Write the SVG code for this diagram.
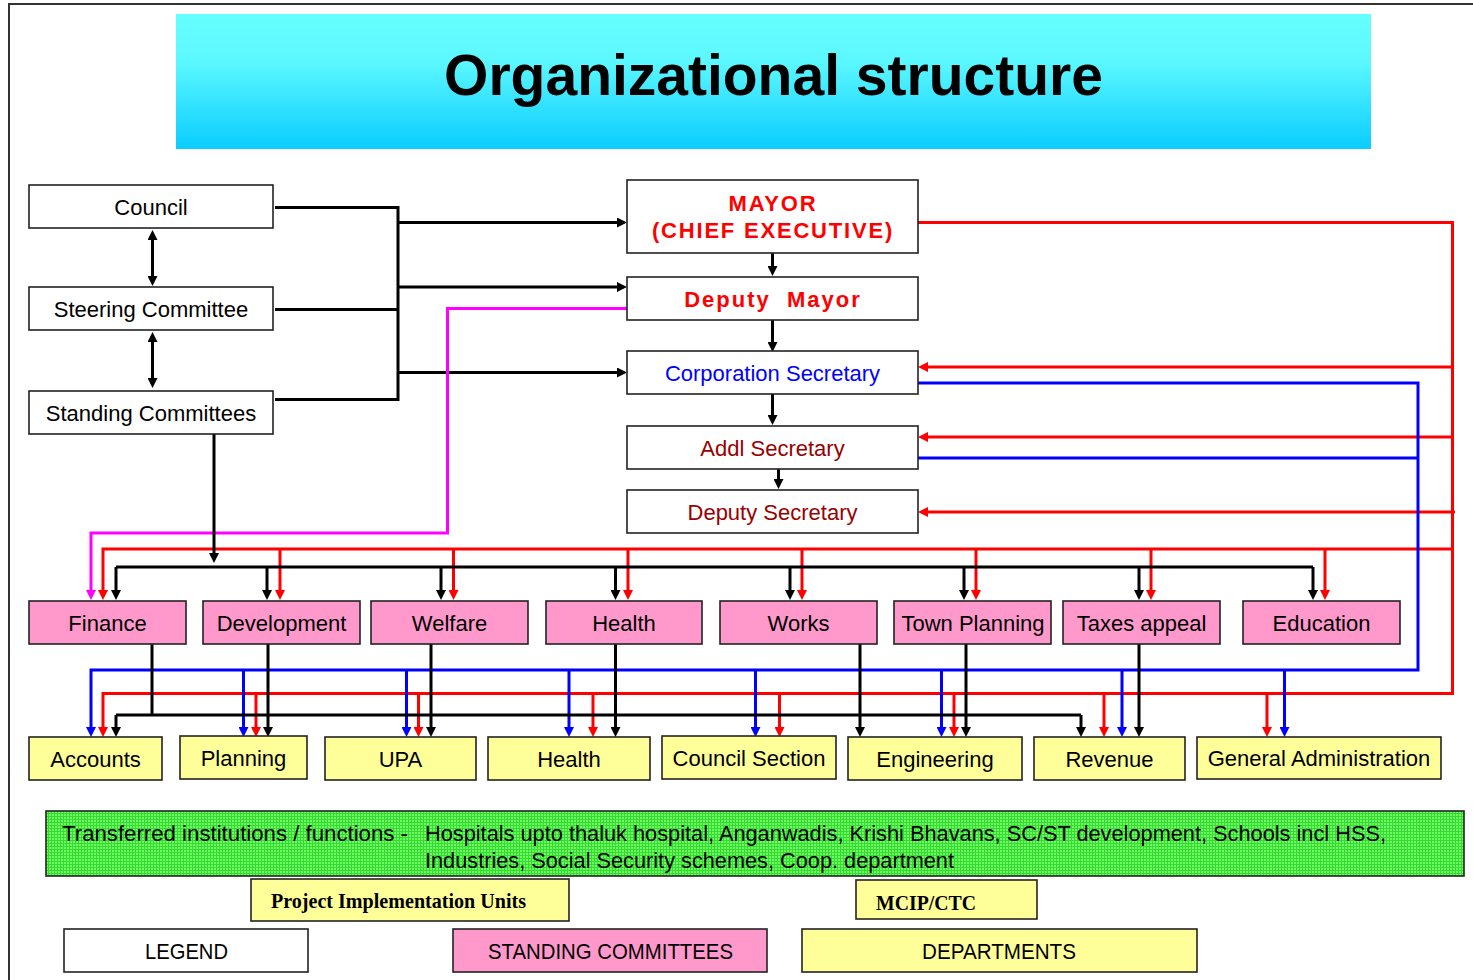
<svg xmlns="http://www.w3.org/2000/svg" width="1473" height="980" viewBox="0 0 1473 980">
<style>
.box{stroke:#222;stroke-width:1.6}
.w{fill:#fff}.p{fill:#FF99CC}.y{fill:#FFFF99}
.t{font-family:"Liberation Sans",Arial,sans-serif;font-size:22px;fill:#000;text-anchor:middle}
.nar{font-family:"Liberation Sans Narrow","Liberation Sans",Arial,sans-serif;font-size:22px;fill:#000}
.ser{font-family:"Liberation Serif","Times New Roman",serif;font-weight:bold;font-size:21px;fill:#000}
.red{font-weight:bold;fill:#FF0000;letter-spacing:1.8px}
.k{fill:none;stroke:#000;stroke-width:3}
.r{fill:none;stroke:#FF0000;stroke-width:3}
.b{fill:none;stroke:#0000FF;stroke-width:3}
.m{fill:none;stroke:#FF00FF;stroke-width:3}
.ak{marker-end:url(#ak)}.ar{marker-end:url(#ar)}.ab{marker-end:url(#ab)}.am{marker-end:url(#am)}
</style>
<defs>
<linearGradient id="tg" x1="0" y1="0" x2="0" y2="1">
<stop offset="0" stop-color="#66FFFF"/><stop offset="0.35" stop-color="#5CF8FF"/><stop offset="1" stop-color="#0ACCFF"/>
</linearGradient>
<pattern id="gp" width="3" height="3" patternUnits="userSpaceOnUse">
<rect width="3" height="3" fill="#6CFF5C"/>
<path d="M0,0.5 H3 M0.5,0 V3" stroke="#38D838" stroke-width="1"/>
</pattern>
<marker id="ak" markerUnits="userSpaceOnUse" markerWidth="10" markerHeight="10" refX="4" refY="5" orient="auto-start-reverse"><path d="M0,0 L10,5 L0,10 z" fill="#000"/></marker>
<marker id="ar" markerUnits="userSpaceOnUse" markerWidth="10" markerHeight="10" refX="4" refY="5" orient="auto"><path d="M0,0 L10,5 L0,10 z" fill="#FF0000"/></marker>
<marker id="ab" markerUnits="userSpaceOnUse" markerWidth="10" markerHeight="10" refX="4" refY="5" orient="auto"><path d="M0,0 L10,5 L0,10 z" fill="#0000FF"/></marker>
<marker id="am" markerUnits="userSpaceOnUse" markerWidth="10" markerHeight="10" refX="4" refY="5" orient="auto"><path d="M0,0 L10,5 L0,10 z" fill="#FF00FF"/></marker>
</defs>
<rect width="1473" height="980" fill="#fff"/>
<path d="M9,980 V4 H1473" fill="none" stroke="#333" stroke-width="2"/>
<g id="title">
<rect x="176" y="14" width="1195" height="135" fill="url(#tg)"/>
<text x="773.5" y="95" style="font-family:'Liberation Sans',Arial,sans-serif;font-size:57px;font-weight:bold;text-anchor:middle">Organizational structure</text>
</g>
<g id="connectors">
<!-- left bracket -->
<path class="k" d="M275,207.5 H398 V399.5 H275 M275,309.5 H398"/>
<path class="k ak" d="M398,222.5 H621"/>
<path class="k ak" d="M398,287 H621"/>
<path class="k ak" d="M398,372.5 H621"/>
<path class="k" d="M152.5,236 V280" marker-start="url(#ak)" marker-end="url(#ak)"/>
<path class="k" d="M152.5,338 V382" marker-start="url(#ak)" marker-end="url(#ak)"/>
<!-- chain -->
<path class="k ak" d="M772.5,253 V270"/>
<path class="k ak" d="M772.5,320 V346"/>
<path class="k ak" d="M772.5,394 V419"/>
<path class="k ak" d="M778.5,469 V483"/>
<!-- red from mayor -->
<path class="r ar" d="M918,222.5 H1452.5 V693.5 H103 V731"/>
<path class="r ar" d="M1452.5,367 H924"/>
<path class="r ar" d="M1452.5,437 H924"/>
<path class="r ar" d="M1455,512 H924"/>
<path class="r ar" d="M1452.5,549 H103 V594"/>
<path class="r ar" d="M280,549 V594"/>
<path class="r ar" d="M453.5,549 V594"/>
<path class="r ar" d="M628,549 V594"/>
<path class="r ar" d="M802,549 V594"/>
<path class="r ar" d="M976,549 V594"/>
<path class="r ar" d="M1151,549 V594"/>
<path class="r ar" d="M1325,549 V594"/>
<path class="r ar" d="M256,693.5 V731"/>
<path class="r ar" d="M418.5,693.5 V731"/>
<path class="r ar" d="M593,693.5 V731"/>
<path class="r ar" d="M779.5,693.5 V731"/>
<path class="r ar" d="M954,693.5 V731"/>
<path class="r ar" d="M1104,693.5 V731"/>
<path class="r ar" d="M1267,693.5 V731"/>
<!-- blue -->
<path class="b ab" d="M918,383 H1418 V670 H91 V731"/>
<path class="b" d="M918,458 H1418"/>
<path class="b ab" d="M243.5,670 V731"/>
<path class="b ab" d="M406.5,670 V731"/>
<path class="b ab" d="M569,670 V731"/>
<path class="b ab" d="M755.5,670 V731"/>
<path class="b ab" d="M941.5,670 V731"/>
<path class="b ab" d="M1122,670 V731"/>
<path class="b ab" d="M1284.5,670 V731"/>
<!-- magenta -->
<path class="m am" d="M627,308.5 H447.5 V533 H91 V594"/>
<!-- black to committees -->
<path class="k ak" d="M214,434 V557"/>
<path class="k" d="M116,567 H1313"/>
<path class="k ak" d="M116,567 V594"/>
<path class="k ak" d="M267,567 V594"/>
<path class="k ak" d="M441,567 V594"/>
<path class="k ak" d="M615.5,567 V594"/>
<path class="k ak" d="M790,567 V594"/>
<path class="k ak" d="M964,567 V594"/>
<path class="k ak" d="M1139,567 V594"/>
<path class="k ak" d="M1313,567 V594"/>
<!-- black committees to departments -->
<path class="k" d="M152,644 V715 M116,715 H1081"/>
<path class="k ak" d="M116,715 V731"/>
<path class="k ak" d="M1081,715 V731"/>
<path class="k ak" d="M268,644 V731"/>
<path class="k ak" d="M431,644 V731"/>
<path class="k ak" d="M615.5,644 V731"/>
<path class="k ak" d="M860,644 V731"/>
<path class="k ak" d="M966,644 V731"/>
<path class="k ak" d="M1139,644 V731"/>
</g>
<g id="council"><rect class="box w" x="29" y="185" width="244" height="43"/><text class="t" x="151" y="215">Council</text></g>
<g id="steering"><rect class="box w" x="29" y="287" width="244" height="43"/><text class="t" x="151" y="317">Steering Committee</text></g>
<g id="standing"><rect class="box w" x="29" y="391" width="244" height="43"/><text class="t" x="151" y="421">Standing Committees</text></g>
<g id="mayor"><rect class="box w" x="627" y="180" width="291" height="73"/>
<text class="t red" x="773" y="211">MAYOR</text><text class="t red" x="773" y="238">(CHIEF EXECUTIVE)</text></g>
<g id="deputy-mayor"><rect class="box w" x="627" y="277" width="291" height="43"/><text class="t red" x="773" y="307" style="letter-spacing:2px">Deputy&#160; Mayor</text></g>
<g id="corp-secretary"><rect class="box w" x="627" y="351" width="291" height="43"/><text class="t" x="772.5" y="381" fill="#0000FF" style="fill:#0000FF">Corporation Secretary</text></g>
<g id="addl-secretary"><rect class="box w" x="627" y="426" width="291" height="43"/><text class="t" x="772.5" y="456" style="fill:#990000">Addl Secretary</text></g>
<g id="deputy-secretary"><rect class="box w" x="627" y="490" width="291" height="43"/><text class="t" x="772.5" y="520" style="fill:#990000">Deputy Secretary</text></g>
<g id="sc-finance"><rect class="box p" x="29" y="601" width="157" height="43"/><text class="t" x="107.5" y="631">Finance</text></g>
<g id="sc-development"><rect class="box p" x="203" y="601" width="157" height="43"/><text class="t" x="281.5" y="631">Development</text></g>
<g id="sc-welfare"><rect class="box p" x="371" y="601" width="157" height="43"/><text class="t" x="449.5" y="631">Welfare</text></g>
<g id="sc-health"><rect class="box p" x="546" y="601" width="156" height="43"/><text class="t" x="624" y="631">Health</text></g>
<g id="sc-works"><rect class="box p" x="720" y="601" width="157" height="43"/><text class="t" x="798.5" y="631">Works</text></g>
<g id="sc-town-planning"><rect class="box p" x="894" y="601" width="157" height="43"/><text class="t" x="973" y="631">Town Planning</text></g>
<g id="sc-taxes"><rect class="box p" x="1063" y="601" width="157" height="43"/><text class="t" x="1141.5" y="631">Taxes appeal</text></g>
<g id="sc-education"><rect class="box p" x="1243" y="601" width="157" height="43"/><text class="t" x="1321.5" y="631">Education</text></g>
<g id="d-accounts"><rect class="box y" x="29" y="737" width="133" height="43"/><text class="t" x="95.5" y="767">Accounts</text></g>
<g id="d-planning"><rect class="box y" x="180" y="736" width="127" height="43"/><text class="t" x="243.5" y="766">Planning</text></g>
<g id="d-upa"><rect class="box y" x="325" y="737" width="151" height="43"/><text class="t" x="400.5" y="767">UPA</text></g>
<g id="d-health"><rect class="box y" x="488" y="737" width="162" height="43"/><text class="t" x="569" y="767">Health</text></g>
<g id="d-council-section"><rect class="box y" x="662" y="736" width="174" height="43"/><text class="t" x="749" y="766">Council Section</text></g>
<g id="d-engineering"><rect class="box y" x="848" y="737" width="174" height="43"/><text class="t" x="935" y="767">Engineering</text></g>
<g id="d-revenue"><rect class="box y" x="1034" y="737" width="151" height="43"/><text class="t" x="1109.5" y="767">Revenue</text></g>
<g id="d-general-admin"><rect class="box y" x="1197" y="737" width="244" height="42"/><text class="t" x="1319" y="766">General Administration</text></g>
<g id="transferred"><rect class="box" x="46" y="811" width="1418" height="65" fill="url(#gp)"/>
<text class="nar" x="62" y="841" textLength="346" lengthAdjust="spacingAndGlyphs">Transferred institutions / functions -</text>
<text class="nar" x="425" y="841" textLength="961" lengthAdjust="spacingAndGlyphs">Hospitals upto thaluk hospital, Anganwadis, Krishi Bhavans, SC/ST development, Schools incl HSS,</text>
<text class="nar" x="425" y="868" textLength="529" lengthAdjust="spacingAndGlyphs">Industries, Social Security schemes, Coop. department</text></g>
<g id="piu"><rect class="box y" x="251" y="879" width="318" height="42"/><text class="ser" x="271" y="908" textLength="255" lengthAdjust="spacingAndGlyphs">Project Implementation Units</text></g>
<g id="mcip"><rect class="box y" x="856" y="880" width="181" height="39"/><text class="ser" x="876" y="910" textLength="100" lengthAdjust="spacingAndGlyphs">MCIP/CTC</text></g>
<g id="legend"><rect class="box w" x="64" y="929" width="244" height="43"/><text class="nar" x="145" y="959" textLength="83" lengthAdjust="spacingAndGlyphs">LEGEND</text></g>
<g id="legend-sc"><rect class="box p" x="453" y="929" width="314" height="43"/><text class="nar" x="488" y="959" textLength="245" lengthAdjust="spacingAndGlyphs">STANDING COMMITTEES</text></g>
<g id="legend-dept"><rect class="box y" x="802" y="929" width="395" height="43"/><text class="nar" x="922" y="959" textLength="154" lengthAdjust="spacingAndGlyphs">DEPARTMENTS</text></g>
</svg>
